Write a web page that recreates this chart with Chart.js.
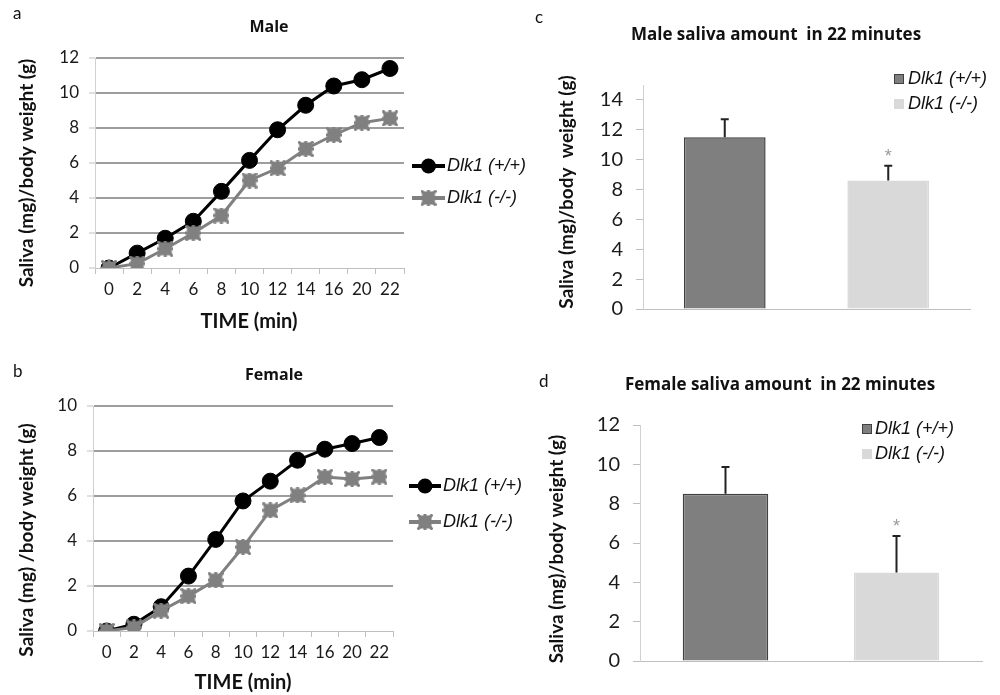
<!DOCTYPE html>
<html><head><meta charset="utf-8">
<script src="https://cdn.jsdelivr.net/npm/chart.js@4.4.1/dist/chart.umd.min.js"></script>
<style>
html,body{margin:0;padding:0;background:#fff;}
#wrap{position:relative;width:1000px;height:695px;overflow:hidden;background:#fff;}
canvas{position:absolute;}
</style></head><body>
<div id="wrap">
<canvas id="ca" width="540" height="345" style="left:0;top:0"></canvas>
<canvas id="cb" width="540" height="350" style="left:0;top:345px"></canvas>
<canvas id="cc" width="470" height="345" style="left:530px;top:0"></canvas>
<canvas id="cd" width="470" height="350" style="left:530px;top:345px"></canvas>
</div>
<script>
// ---------- data ----------
const timeLabels = ['0','2','4','6','8','10','12','14','16','20','22'];
const maleWT   = [0, 0.85, 1.7, 2.67, 4.38, 6.15, 7.9, 9.3, 10.4, 10.76, 11.4];
const maleKO   = [0, 0.25, 1.1, 2.0, 3.0, 5.0, 5.7, 6.8, 7.6, 8.3, 8.55];
const femaleWT = [0, 0.3, 1.08, 2.44, 4.07, 5.78, 6.66, 7.59, 8.08, 8.33, 8.6];
const femaleKO = [0, 0.16, 0.9, 1.55, 2.26, 3.73, 5.36, 6.03, 6.84, 6.76, 6.86];
const groups = ['Dlk1 (+/+)', 'Dlk1 (-/-)'];
const maleTotal = [11.5, 8.6];
const maleErr = [1.2, 1.0];
const femaleTotal = [8.5, 4.5];
const femaleErr = [1.36, 1.86];
const significant = [false, true];
const maleBarTicks = [0, 2, 4, 6, 8, 10, 12, 14];
const femaleBarTicks = [0, 2, 4, 6, 8, 10, 12];

Chart.defaults.font.family = 'Lato, sans-serif';
Chart.defaults.color = '#1a1a1a';
Chart.defaults.animation = false;

// gray star-square marker
function makeStarSquare(){
  const c = document.createElement('canvas'); c.width = 16; c.height = 16;
  const g = c.getContext('2d');
  g.fillStyle = '#808080'; g.strokeStyle = '#808080';
  g.fillRect(1.5,1.5,13,13);
  g.lineWidth = 3; g.lineCap='butt';
  g.beginPath();
  g.moveTo(0,8); g.lineTo(16,8);
  g.moveTo(8,0); g.lineTo(8,16);
  g.moveTo(0.5,0.5); g.lineTo(15.5,15.5);
  g.moveTo(15.5,0.5); g.lineTo(0.5,15.5);
  g.stroke();
  return c;
}
const starSquare = makeStarSquare();

// ---------- decoration plugin: texts + custom legend ----------
const deco = {
  id: 'deco',
  afterDraw(chart, args, opts) {
    const ctx = chart.ctx;
    ctx.save();
    (opts.texts || []).forEach(t => {
      ctx.save();
      ctx.font = t.font;
      ctx.fillStyle = t.color || '#111';
      ctx.textAlign = t.align || 'center';
      ctx.textBaseline = t.baseline || 'middle';
      ctx.translate(t.x, t.y);
      if (t.rotate) ctx.rotate(t.rotate * Math.PI / 180);
      ctx.fillText(t.text, 0, 0);
      ctx.restore();
    });
    (opts.legend || []).forEach(l => {
      if (l.type === 'line') {
        const ds = chart.data.datasets[l.datasetIndex];
        ctx.strokeStyle = ds.borderColor; ctx.lineWidth = 4;
        ctx.beginPath(); ctx.moveTo(l.x1, l.y); ctx.lineTo(l.x2, l.y); ctx.stroke();
        const cx = (l.x1 + l.x2) / 2;
        if (ds.pointStyle === 'circle') {
          ctx.fillStyle = ds.pointBackgroundColor;
          ctx.beginPath(); ctx.arc(cx, l.y, 7.5, 0, Math.PI * 2); ctx.fill();
        } else {
          ctx.drawImage(ds.pointStyle, cx - 8, l.y - 8, 16, 16);
        }
        ctx.fillStyle = '#111'; ctx.font = l.font; ctx.textAlign = 'left'; ctx.textBaseline = 'middle';
        ctx.fillText(ds.label, l.textX, l.y);
      } else {
        const ds = chart.data.datasets[0];
        ctx.fillStyle = ds.backgroundColor[l.index];
        ctx.fillRect(l.x, l.y, l.size, l.size);
        ctx.strokeStyle = ds.borderColor[l.index]; ctx.lineWidth = 1;
        ctx.strokeRect(l.x + 0.5, l.y + 0.5, l.size - 1, l.size - 1);
        ctx.fillStyle = '#111'; ctx.font = l.font; ctx.textAlign = 'left'; ctx.textBaseline = 'middle';
        ctx.fillText(chart.data.labels[l.index], l.textX, l.y + l.size / 2);
      }
    });
    ctx.restore();
  }
};

// ---------- error bars plugin ----------
const errBars = {
  id: 'errBars',
  afterDatasetsDraw(chart, args, opts) {
    const ctx = chart.ctx, ys = chart.scales.y, meta = chart.getDatasetMeta(0);
    const vals = chart.data.datasets[0].data;
    ctx.save();
    meta.data.forEach((bar, i) => {
      const top = ys.getPixelForValue(vals[i] + opts.errors[i]);
      ctx.strokeStyle = '#222'; ctx.lineWidth = 2;
      ctx.beginPath();
      ctx.moveTo(bar.x, bar.y); ctx.lineTo(bar.x, top);
      ctx.moveTo(bar.x - 4, top); ctx.lineTo(bar.x + 4, top);
      ctx.stroke();
      if (opts.stars[i]) {
        ctx.fillStyle = '#9a9a9a'; ctx.font = '18px "Liberation Sans", Arial';
        ctx.textAlign = 'center'; ctx.textBaseline = 'alphabetic';
        ctx.fillText('*', bar.x, top - 4);
      }
    });
    ctx.restore();
  }
};

const titleFont = 'bold 16px "Open Sans", sans-serif';
const barTitleFont = 'bold 17px "Open Sans", sans-serif';
const axisTitleFont = 'bold 19px Lato, sans-serif';
const timeFont = 'bold 20px Lato, sans-serif';
const legendFont = 'italic 18px "Liberation Sans", Arial, sans-serif';
const letterFont = '17px Lato, sans-serif';

function lineChart(id, wt, ko, ymax, box, deco_) {
  return new Chart(document.getElementById(id), {
    type: 'line',
    data: {
      labels: timeLabels,
      datasets: [
        { label: groups[0], data: wt, borderColor: '#000', borderWidth: 3,
          pointStyle: 'circle', pointRadius: 8, pointBackgroundColor: '#000', pointBorderColor: '#000',
          pointBorderWidth: 1, order: 1 },
        { label: groups[1], data: ko, borderColor: '#808080', borderWidth: 3,
          pointStyle: starSquare, pointBackgroundColor: '#808080', pointBorderColor: '#808080', order: 0 }
      ]
    },
    options: {
      responsive: false,
      layout: { padding: { left: 0, right: box.right, top: box.top, bottom: 0 } },
      plugins: { legend: { display: false }, tooltip: { enabled: false }, deco: deco_ },
      scales: {
        x: {
          offset: true,
          grid: { offset: true, drawOnChartArea: false, tickLength: 6, tickColor: '#bfbfbf', lineWidth: 1 },
          border: { color: '#bfbfbf', width: 1 },
          ticks: { font: { size: 17 }, padding: 5, maxRotation: 0, autoSkip: false },
          afterFit: s => { s.height = box.xh; }
        },
        y: {
          min: 0, max: ymax,
          grid: { color: c => c.tick && c.tick.value === 0 ? 'rgba(0,0,0,0)' : '#9d9d9d', lineWidth: 2,
                  tickLength: 6, tickColor: '#bfbfbf', tickWidth: 1 },
          border: { color: '#d0d0d0', width: 1 },
          ticks: { stepSize: 2, font: { size: 17 }, padding: 10 },
          afterFit: s => { s.width = box.yw; }
        }
      }
    },
    plugins: [deco]
  });
}

function barChart(id, vals, errs, ymax, tickVals, box, deco_) {
  return new Chart(document.getElementById(id), {
    type: 'bar',
    data: {
      labels: groups,
      datasets: [{ data: vals, backgroundColor: ['#7f7f7f', '#d9d9d9'], borderColor: ['#404040', '#d9d9d9'],
                   borderWidth: 1.5, barPercentage: 0.5, categoryPercentage: 1 }]
    },
    options: {
      responsive: false,
      layout: { padding: { left: 0, right: box.right, top: box.top, bottom: 0 } },
      plugins: { legend: { display: false }, tooltip: { enabled: false }, deco: deco_,
                 errBars: { errors: errs, stars: significant } },
      scales: {
        x: {
          grid: { display: true, drawOnChartArea: false, drawTicks: false },
          border: { color: '#bfbfbf', width: 1 },
          ticks: { display: false },
          afterFit: s => { s.height = box.xh; }
        },
        y: {
          min: 0, max: ymax,
          afterBuildTicks: s => { s.ticks = tickVals.map(v => ({ value: v })); },
          grid: { drawOnChartArea: false, tickLength: 7, tickColor: '#bfbfbf' },
          border: { color: '#d0d0d0', width: 1 },
          ticks: { font: { size: 20 }, padding: 13 },
          afterFit: s => { s.width = box.yw; }
        }
      }
    },
    plugins: [deco, errBars]
  });
}

lineChart('ca', maleWT, maleKO, 12, { right: 136, top: 58, xh: 77, yw: 95 }, {
  texts: [
    { text: 'a', x: 13, y: 19, font: letterFont, align: 'left', baseline: 'alphabetic' },
    { text: 'Male', x: 269, y: 27, font: titleFont },
    { text: 'Saliva (mg)/body weight (g)', x: 27, y: 173, font: axisTitleFont, rotate: -90 },
    { text: 'TIME (min)', x: 249, y: 322, font: timeFont }
  ],
  legend: [
    { type: 'line', datasetIndex: 0, x1: 412, x2: 445, y: 166, textX: 447, font: legendFont },
    { type: 'line', datasetIndex: 1, x1: 412, x2: 445, y: 198, textX: 447, font: legendFont }
  ]
});

lineChart('cb', femaleWT, femaleKO, 10, { right: 147, top: 61, xh: 64, yw: 93 }, {
  texts: [
    { text: 'b', x: 13, y: 32, font: letterFont, align: 'left', baseline: 'alphabetic' },
    { text: 'Female', x: 274, y: 30, font: titleFont },
    { text: 'Saliva (mg) /body weight (g)', x: 27, y: 195, font: axisTitleFont, rotate: -90 },
    { text: 'TIME (min)', x: 243, y: 338, font: timeFont }
  ],
  legend: [
    { type: 'line', datasetIndex: 0, x1: 409, x2: 441, y: 141, textX: 443, font: legendFont },
    { type: 'line', datasetIndex: 1, x1: 409, x2: 441, y: 177, textX: 443, font: legendFont }
  ]
});

barChart('cc', maleTotal, maleErr, 15, maleBarTicks, { right: 30, top: 85, xh: 36, yw: 113 }, {
  texts: [
    { text: 'c', x: 5, y: 23, font: letterFont, align: 'left', baseline: 'alphabetic' },
    { text: 'Male saliva amount  in 22 minutes', x: 246, y: 35, font: barTitleFont },
    { text: 'Saliva (mg)/body  weight (g)', x: 37, y: 192, font: axisTitleFont, rotate: -90 }
  ],
  legend: [
    { type: 'box', index: 0, x: 364, y: 74, size: 10, textX: 378, font: legendFont },
    { type: 'box', index: 1, x: 364, y: 99, size: 10, textX: 378, font: legendFont }
  ]
});

barChart('cd', femaleTotal, femaleErr, 12, femaleBarTicks, { right: 18, top: 80, xh: 34, yw: 110 }, {
  texts: [
    { text: 'd', x: 9, y: 42, font: letterFont, align: 'left', baseline: 'alphabetic' },
    { text: 'Female saliva amount  in 22 minutes', x: 250, y: 40, font: barTitleFont },
    { text: 'Saliva (mg)/body weight (g)', x: 27, y: 204, font: axisTitleFont, rotate: -90 }
  ],
  legend: [
    { type: 'box', index: 0, x: 332, y: 79, size: 10, textX: 345, font: legendFont },
    { type: 'box', index: 1, x: 332, y: 104, size: 10, textX: 345, font: legendFont }
  ]
});
</script>
</body></html>
